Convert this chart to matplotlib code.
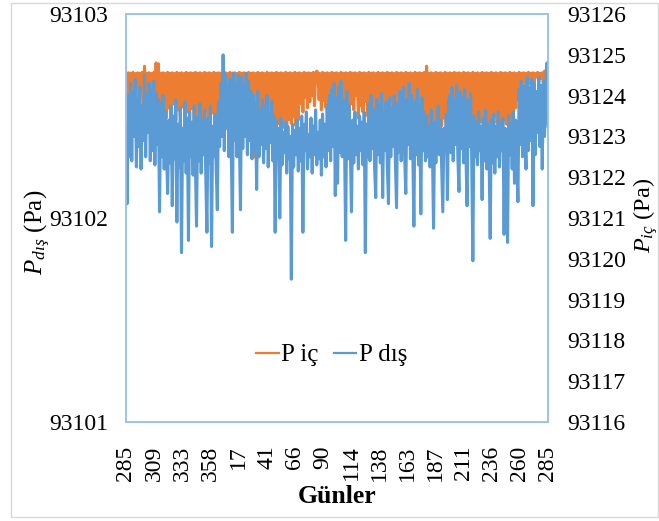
import matplotlib
matplotlib.use("Agg")
import matplotlib.pyplot as plt
import numpy as np
from matplotlib.lines import Line2D
from matplotlib.patches import Rectangle

plt.rcParams["font.family"] = ["Liberation Serif", "DejaVu Serif"]
plt.rcParams["mathtext.fontset"] = "custom"
plt.rcParams["mathtext.rm"] = "Liberation Serif"
plt.rcParams["mathtext.it"] = "Liberation Serif:italic"

# day labels on the category axis
tick_labels = ["285", "309", "333", "358", "17", "41", "66", "90",
               "114", "138", "163", "187", "211", "236", "260", "285"]

# P dis (left axis), hundredths of Pa above 93102, one value per day
p_dis_hund = [
    45, 7, 60, 30, 66, 28, 62, 40, 68, 25,
    58, 35, 64, 24, 55, 38, 70, 30, 60, 42,
    66, 28, 63, 33, 67, 26, 61, 36, 58, 3,
    56, 30, 60, 24, 52, 35, 12, 48, 27, 55,
    6, 50, 29, 58, -2, 46, 25, 54, -17, 44,
    28, 57, 22, 49, -11, 52, 30, 47, 21, 55,
    26, -4, 50, 28, 56, 22, 48, 31, 53, 20,
    -7, 49, 27, 55, -14, 45, 30, 51, 24, 4,
    57, 35, 66, 40, 80, 33, 70, 44, 64, 30,
    68, 36, -7, 71, 38, 66, 30, 70, 42, 4,
    69, 34, 65, 40, 71, 31, 67, 38, 62, 29,
    60, 33, 56, 14, 62, 30, 52, 36, 58, 27,
    55, 34, 60, 25, 51, 37, 57, 28, 50, -7,
    48, 30, 44, 0, 49, 26, 42, 32, 47, 22,
    45, 29, 40, -30, 46, 25, 43, 31, 48, 23,
    44, 28, 50, -7, 46, 33, 52, 24, 41, 30,
    49, 22, 45, 31, 53, 26, 42, 29, 48, 21,
    51, 30, 46, 25, 55, 33, 60, 28, 63, 35,
    66, 11, 59, 17, 64, 32, 67, 30, 58, 36,
    -11, 62, 29, 55, 34, 3, 48, 27, 52, 31,
    45, 24, 50, 33, 47, 26, 52, -17, 46, 30,
    56, 28, 60, 34, 53, 25, 10, 58, 31, 55,
    27, 61, 10, 52, 33, 57, 26, 7, 59, 30,
    54, 35, 60, 27, 5, 56, 32, 62, 28, 53,
    64, 30, 12, 58, 36, 66, 29, 60, 34, -4,
    57, 31, 63, 26, 55, 2, 59, 33, 52, 28,
    50, 30, 45, 25, 53, 34, -5, 47, 27, 42,
    55, 31, 48, 26, 3, 44, 33, 51, 9, 57,
    60, 32, 64, 28, 58, 36, 65, 30, 13, 62,
    34, 59, 27, 63, 31, 6, 58, 35, 61, 29,
    -21, 50, 30, 47, 26, 52, 33, 45, 9, 49,
    28, 53, 24, 46, 31, -10, 48, 27, 51, 22,
    45, 30, 52, 25, 47, 33, 49, -8, 44, 28,
    -12, 50, 31, 46, 24, 52, 17, 48, 29, 8,
    63, 36, 67, 30, 65, 40, 24, 69, 33, 64,
    38, 68, 6, 66, 31, 62, 42, 69, 35, 65,
    24, 67, 40, 63, 76, 45,
]

# P ic (right axis), hundredths of Pa above 93123, one value per day
p_ic_hund = [
    150, 100, 156, 85, 155, 120, 157, 95, 154, 110,
    156, 90, 155, 105, 157, 80, 172, 100, 155, 88,
    156, 115, 154, 92, 157, 78, 180, 95, 178, 85,
    155, 60, 156, 75, 154, 45, 157, 70, 155, 55,
    156, 80, 154, 40, 157, 65, 155, 50, 156, 72,
    154, 35, 157, 60, 155, 48, 156, 68, 154, 17,
    157, 55, 155, 42, 156, 70, 154, 30, 157, 62,
    155, 45, 156, 25, 154, 58, 157, 40, 155, 66,
    156, 90, 155, 100, 157, 85, 156, 105, 154, 95,
    157, 100, 155, 92, 156, 108, 154, 96, 157, 88,
    155, 102, 156, 90, 154, 98, 157, 85, 155, 70,
    156, -50, 154, 60, 157, 45, 155, 30, 156, 52,
    154, 40, 157, 25, 155, 50, 156, 35, 154, 4,
    157, 30, 155, 45, 156, 20, 154, 38, 157, 28,
    155, 42, 156, 32, 154, 48, 157, 26, 155, 40,
    156, 80, 154, 60, 157, 95, 155, 70, 156, 85,
    154, 100, 157, 75, 155, 160, 156, 90, 154, 65,
    157, 88, 155, 70, 156, 98, 154, 80, 157, 92,
    155, 75, 156, 95, 154, 60, 157, 85, 155, 70,
    156, 90, 154, 55, 157, 80, 155, 65, 156, 100,
    154, 45, 157, 75, 155, 60, 156, 85, 154, 50,
    157, 70, 155, 90, 156, 55, 154, 80, 157, 65,
    155, 85, 156, 40, 154, 72, 157, 60, 155, 88,
    156, 45, 154, 35, 157, 50, 155, 30, 156, 42,
    154, 28, 157, 46, 155, 33, 156, 20, 154, 40,
    157, 36, 155, 25, 156, 44, 154, 30, 157, 38,
    172, 30, 155, 22, 156, 12, 154, 35, 157, 28,
    155, 40, 156, 26, 154, 45, 157, 32, 155, 50,
    156, 60, 154, 85, 157, 45, 155, 75, 156, 55,
    154, 80, 157, 40, 155, 65, 156, 30, 154, 70,
    157, 50, 155, 25, 156, 60, 154, 35, 157, 45,
    155, 20, 156, 5, 154, 38, 157, 28, 155, 50,
    156, 32, 154, 45, 157, 22, 155, 40, 156, 30,
    154, 48, 157, 35, 155, 55, 156, 70, 154, 90,
    157, 125, 155, 140, 156, 130, 154, 145, 157, 128,
    155, 138, 156, 132, 154, 146, 157, 135, 155, 142,
    156, 130, 160, 138, 177, 150,
]

p_dis = 93102 + np.array(p_dis_hund) / 100.0
p_ic = 93123 + np.array(p_ic_hund) / 100.0
days = np.arange(len(p_dis))

orange = "#ED7D31"
blue = "#5B9BD5"
frame = "#9DC3E6"
fs = 17

fig = plt.figure(figsize=(6.59, 5.21), dpi=100)
ax = fig.add_axes([126 / 659, 1 - 422 / 521, 422 / 659, 408 / 521])
ax2 = ax.twinx()

ax2.plot(days, p_ic, color=orange, lw=2.2)
ax.plot(days, p_dis, color=blue, lw=2.2)
ax.set_zorder(ax2.get_zorder() + 1)
ax.patch.set_visible(False)

ax.set_xlim(0, len(days) - 1)
ax.set_ylim(93101, 93103)
ax.set_yticks([93101, 93102, 93103])
ax.set_yticklabels(["93101", "93102", "93103"])
ax2.set_ylim(93116, 93126)
ax2.set_yticks(np.arange(93116, 93127))
ax2.set_yticklabels([str(v) for v in range(93116, 93127)])

ax.set_xticks(np.linspace(0, len(days) - 1, len(tick_labels)))
ax.set_xticklabels(tick_labels, rotation=90)

ax.tick_params(axis="both", length=0, labelsize=fs)
ax.tick_params(axis="y", pad=13)
ax.tick_params(axis="x", pad=17)
ax2.tick_params(axis="y", length=0, labelsize=fs, pad=13.5)

for a in (ax, ax2):
    for sp in a.spines.values():
        sp.set_color(frame)
        sp.set_linewidth(1.2)

ax.set_ylabel(r"$P_{dış}$ (Pa)", fontsize=18)
ax.yaxis.set_label_coords(-0.173, 0.466)
ax2.set_ylabel(r"$P_{iç}$ (Pa)", fontsize=17.5, rotation=90)
ax2.yaxis.set_label_coords(1.196, 0.507)
ax.set_xlabel("Günler", fontsize=18.5, fontweight="bold", labelpad=3)

handles = [Line2D([], [], color=orange, lw=1.6), Line2D([], [], color=blue, lw=1.6)]
ax.legend(handles, ["P iç", "P dış"], loc="center", bbox_to_anchor=(0.487, 0.164),
          ncol=2, frameon=False, fontsize=18, handlelength=0.9,
          handletextpad=0.1, columnspacing=0.6)

fig.patches.append(Rectangle((11 / 659, 4 / 521), 647 / 659, 514 / 521,
                             transform=fig.transFigure, fill=False,
                             edgecolor="#D9D9D9", lw=1.0))

fig.savefig("out.png", dpi=100)
